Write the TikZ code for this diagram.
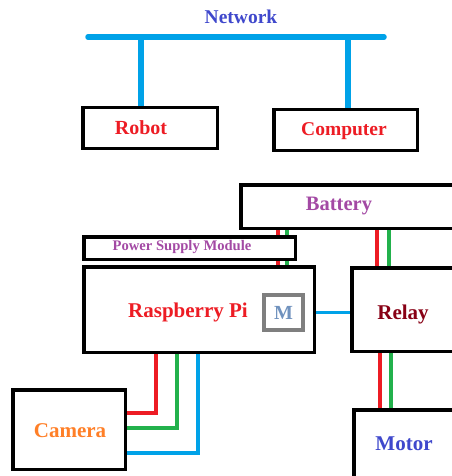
\documentclass[tikz,border=0pt]{standalone}
\usepackage{fontspec}
\setmainfont{Liberation Serif}
\definecolor{pred}{HTML}{ED1C24}
\definecolor{pgreen}{HTML}{22B14C}
\definecolor{pblue}{HTML}{00A2E8}
\definecolor{pindigo}{HTML}{3F48CC}
\definecolor{ppurple}{HTML}{A349A4}
\definecolor{pmaroon}{HTML}{880015}
\definecolor{porange}{HTML}{FF7F27}
\definecolor{psteel}{HTML}{7092BE}
\definecolor{pgray}{HTML}{7F7F7F}
\tikzset{
  box/.style={draw=black, line width=3.5pt, fill=white, inner sep=0pt},
  lbl/.style={font=\bfseries\fontsize{20}{24}\selectfont, inner sep=0pt},
  netline/.style={draw=pblue, line width=5.5pt, line cap=round},
  wire/.style={line width=3.5pt},
}
\begin{document}
\begin{tikzpicture}[x=1pt,y=-1pt]
\useasboundingbox[fill=white] (0,0) rectangle (451,476);
% network
\node[lbl, text=pindigo, font=\bfseries\fontsize{19.5}{24}\selectfont] (net) at (241,17) {Network};
\coordinate (busL) at (88,37);
\coordinate (busR) at (384,37);
\coordinate (ra) at (141,37);
\coordinate (ca) at (348,37);
\node[box, minimum width=134.5pt, minimum height=40.5pt] (robot) at (150,128) {};
\node[box, minimum width=143.5pt, minimum height=40.5pt] (computer) at (345.5,130) {};
\draw[netline] (busL) -- (busR);
\draw[netline, line cap=butt] (ra) -- (ra |- robot.north);
\draw[netline, line cap=butt] (ca) -- (ca |- computer.north);
\node[lbl, text=pred] (robotlbl) at (141,128) {Robot};
\node[lbl, text=pred, font=\bfseries\fontsize{19.5}{24}\selectfont] (complbl) at (344,131) {Computer};
% battery, rpi, relay, motor, camera
\node[box, minimum width=229.25pt, minimum height=43.5pt] (battery) at (355.4,206.5) {};
\node[lbl, text=ppurple, font=\bfseries\fontsize{20.5}{24}\selectfont] (batlbl) at (339,206) {Battery};
\node[box, minimum width=230.5pt, minimum height=85.5pt] (rpi) at (199,309.5) {};
\node[lbl, text=pred, font=\bfseries\fontsize{21}{24}\selectfont] (rpilbl) at (188,312) {Raspberry Pi};
\node[box, minimum width=118.25pt, minimum height=83.5pt] (relay) at (410.9,309.5) {};
\node[lbl, text=pmaroon, font=\bfseries\fontsize{21}{24}\selectfont] (relaylbl) at (403,314) {Relay};
\node[box, minimum width=116.25pt, minimum height=80.25pt] (motor) at (411.9,449.9) {};
\node[lbl, text=pindigo, font=\bfseries\fontsize{21}{24}\selectfont] (motorlbl) at (404,444) {Motor};
\node[box, minimum width=112.5pt, minimum height=79.5pt] (camera) at (69,429.5) {};
\node[lbl, text=porange, font=\bfseries\fontsize{21}{24}\selectfont] (camlbl) at (70,431) {Camera};
\node[draw=pgray, line width=4pt, fill=white, minimum width=39pt, minimum height=35pt, inner sep=0pt,
      text=psteel, font=\bfseries\fontsize{20}{24}\selectfont] (m) at (283.5,312.5) {M};
% wire x positions
\coordinate (pr) at (278,0);
\coordinate (pg) at (287,0);
\coordinate (br) at (377,0);
\coordinate (bg) at (389,0);
\coordinate (mr) at (380,0);
\coordinate (mg) at (391,0);
\coordinate (cr) at (156,413);
\coordinate (cg) at (177,428);
\coordinate (cb) at (198,453);
% battery to rpi (behind PSM)
\draw[wire, pred] (pr |- battery.south) -- (pr |- rpi.north);
\draw[wire, pgreen] (pg |- battery.south) -- (pg |- rpi.north);
% power supply module
\node[box, minimum width=211.5pt, minimum height=22.5pt] (psm) at (189.5,248) {};
\node[lbl, text=ppurple, font=\bfseries\fontsize{14.6}{16}\selectfont] (psmlbl) at (182,247) {Power Supply Module};
% battery to relay
\draw[wire, pred] (br |- battery.south) -- (br |- relay.north);
\draw[wire, pgreen] (bg |- battery.south) -- (bg |- relay.north);
% relay to motor
\draw[wire, pred] (mr |- relay.south) -- (mr |- motor.north);
\draw[wire, pgreen] (mg |- relay.south) -- (mg |- motor.north);
% rpi to relay
\draw[wire, pblue] (m.center -| rpi.east) -- (m.center -| relay.west);
% rpi to camera
\draw[wire, pred] (cr |- rpi.south) -- (cr) -- (cr -| camera.east);
\draw[wire, pgreen] (cg |- rpi.south) -- (cg) -- (cg -| camera.east);
\draw[wire, pblue] (cb |- rpi.south) -- (cb) -- (cb -| camera.east);
\end{tikzpicture}
\end{document}
